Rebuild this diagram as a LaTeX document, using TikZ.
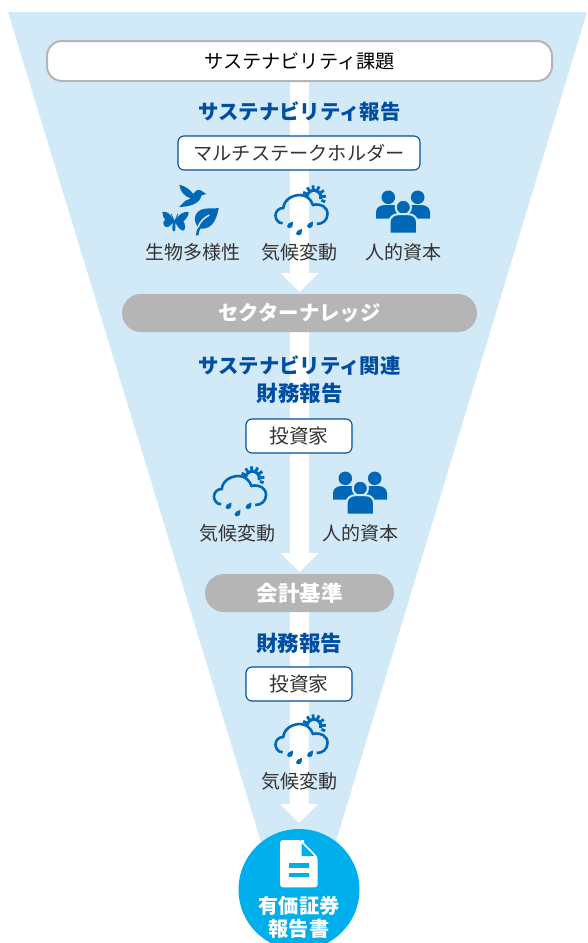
\documentclass[tikz,border=0pt]{standalone}
\usepackage{fontspec}
\setmainfont{Noto Sans CJK JP}
\usetikzlibrary{arrows.meta,backgrounds}
\definecolor{skyband}{HTML}{D2E9F8}
\definecolor{headblue}{HTML}{004EA2}
\definecolor{iconblue}{HTML}{0068B7}
\definecolor{pillgray}{HTML}{B5B5B5}
\definecolor{discblue}{HTML}{00AEEC}
\definecolor{inkgray}{HTML}{333333}
\newcommand{\kanjihead}{\fontsize{21.5}{28}\selectfont}
\tikzset{
  heading/.style={font=\fontsize{20.4}{28}\selectfont\bfseries,text=headblue,align=center,inner sep=0pt},
  topbox/.style={draw=pillgray,line width=2pt,fill=white,rounded corners=15pt,minimum width=505pt,minimum height=40pt,inner sep=0pt,outer sep=0pt,text=black,font=\fontsize{19.2}{23}\selectfont},
  audience/.style={draw=headblue,line width=1.1pt,fill=white,rounded corners=6pt,minimum height=34pt,inner sep=0pt,outer sep=0pt,text=inkgray,font=\fontsize{19.2}{23}\selectfont},
  pill/.style={fill=pillgray,rounded corners=19pt,minimum height=38pt,inner sep=0pt,outer sep=0pt,text=white,font=\fontsize{20.4}{25}\selectfont\bfseries},
  caption/.style={text=inkgray,font=\fontsize{19}{23}\selectfont,inner sep=0pt},
  flow/.style={white,line width=19pt,-{Triangle[width=37pt,length=19pt]}},
  pics/cloudicon/.style={code={
    % sun
    \draw[iconblue,line width=3pt] (13,-12.7) ++(-170:7) arc[start angle=-170,end angle=15,radius=7];
    \foreach \a in {155,125,95,65,35,5,-22}{\draw[iconblue,line width=2.8pt] (13,-12.7) ++(-\a:8) -- ++(-\a:4);}
    % cloud
    \draw[iconblue,line width=2.6pt] (-18.3,13.3) .. controls (-23,13.3) and (-25.5,9) .. (-25.5,5.5) .. controls (-25.5,1) and (-22,-2) .. (-17.7,-2) .. controls (-17,-10) and (-9,-15) .. (-1,-15) .. controls (5,-15) and (10,-11) .. (12,-5) .. controls (20,-7) and (26.5,-3) .. (26.5,4) .. controls (26.5,10) and (22,14) .. (15.7,14);
    % drops
    \foreach \dx/\dy in {-11/15,-2/22.3,9/15}{
      \fill[iconblue] (\dx+3,\dy-3.6) .. controls (\dx+3.2,\dy-1) and (\dx+3,\dy+3) .. (\dx-0.5,\dy+3) .. controls (\dx-3.5,\dy+3) and (\dx-3.5,\dy-0.5) .. (\dx-1.5,\dy-1.5) -- cycle;
    }
  }},
  pics/peopleicon/.style={code={
    \fill[iconblue] (-14.7,-12.7) circle[radius=6.8];
    \fill[iconblue] (14.7,-12.7) circle[radius=6.8];
    \fill[iconblue] (-27,8.5) -- (-27,2) .. controls (-27,-3) and (-22,-5) .. (-18,-5) -- (-10,-5) .. controls (-5,-5) and (0,-2) .. (0,4) -- (0,8.5) -- cycle;
    \fill[iconblue] (27,8.5) -- (27,2) .. controls (27,-3) and (22,-5) .. (18,-5) -- (10,-5) .. controls (5,-5) and (0,-2) .. (0,4) -- (0,8.5) -- cycle;
    \path[fill=iconblue,draw=skyband,line width=2pt] (0.3,-2.7) circle[radius=7.6];
    \path[fill=iconblue,draw=skyband,line width=2pt] (-13.5,23.5) -- (-13.5,12) .. controls (-13.5,7) and (-9,4.2) .. (-5,4.2) -- (5.5,4.2) .. controls (10,4.2) and (14,7) .. (14,12) -- (14,23.5) -- cycle;
  }}
}
\begin{document}
\begin{tikzpicture}[x=1pt,y=-1pt]
\useasboundingbox (0,0) rectangle (587,943);
\clip (0,0) rectangle (587,943);

% Top of the funnel
\node[topbox] (issue) at (299.5,61) {サステナビリティ課題};
\node[heading] (h1) at (299.5,112) {サステナビリティ報告};
\node[audience,minimum width=242pt] (a1) at (299,153) {マルチステークホルダー};
\node[caption] (c1a) at (193,252) {生物多様性};
\node[caption] (c1b) at (299,252) {気候変動};
\node[caption] (c1c) at (403,252) {人的資本};
\node[pill,minimum width=355pt] (p1) at (299.5,313) {セクターナレッジ};

% Middle
\node[heading] (h2) at (299.5,380) {サステナビリティ関連\\{\kanjihead 財務報告}};
\node[audience,minimum width=106pt] (a2) at (299,436) {\fontsize{19.7}{23}\selectfont 投資家};
\node[caption] (c2a) at (237,533) {気候変動};
\node[caption] (c2b) at (360,533) {人的資本};
\node[pill,minimum width=189pt,font=\kanjihead\bfseries] (p2) at (299.5,593) {会計基準};

% Lower
\node[heading,font=\kanjihead\bfseries] (h3) at (299,643) {財務報告};
\node[audience,minimum width=106pt] (a3) at (299,684) {\fontsize{19.7}{23}\selectfont 投資家};
\node[caption] (c3a) at (299,781) {気候変動};

% Disc
\begin{scope}[on background layer]
  \fill[skyband] (8,12) -- (587,12) -- (298.5,965) -- cycle;
  \draw[flow,shorten >=2pt] (issue.south) -- (p1.north);
  \draw[flow,shorten >=2pt] (p1.south) -- (p2.north);
\end{scope}
\node[circle,fill=discblue,minimum size=121pt,inner sep=0pt,outer sep=0pt] (disc) at (299,889.5) {};
\begin{scope}[on background layer]
  \draw[flow,shorten >=6pt] (p2.south) -- (disc.north);
\end{scope}
\node[text=white,font=\fontsize{20.2}{22.5}\selectfont\bfseries,align=center,inner sep=0pt] (dl) at (299,917.5) {有価証券\\報告書};

% Document icon
\fill[white,rounded corners=3pt] (280,840) -- (301,840) -- (317.7,857) -- (317.7,887.3) -- (280,887.3) -- cycle;
\fill[white] (301,840) -- (304,840) -- (304,845) -- cycle;
\fill[discblue] (301.7,843.3) -- (301.7,856) -- (314.3,856) -- cycle;
\fill[discblue] (289.3,863.3) rectangle (308.7,868);
\fill[discblue] (289.3,872.7) rectangle (308.7,877.3);

% Nature icons (bird, butterfly, leaf), drawn on a 3x grid
\begin{scope}[shift={(130,170)},x=0.3333pt,y=-0.3333pt]
  \fill[iconblue] (148,44) .. controls (165,48) and (180,58) .. (190,72) .. controls (195,62) and (205,56) .. (214,62) -- (229,72) -- (215,76) .. controls (212,92) and (195,110) .. (147,111) .. controls (155,105) and (160,98) .. (166,92) .. controls (172,90) and (178,88) .. (182,85) .. controls (165,80) and (150,65) .. (148,44) -- cycle;
  \fill[iconblue] (266,114) .. controls (258,160) and (240,178) .. (211,176) .. controls (208,182) and (206,188) .. (205,196) -- (198,196) .. controls (198,186) and (201,178) .. (205,172) .. controls (185,150) and (195,120) .. (225,116) .. controls (240,114) and (255,116) .. (266,114) -- cycle;
  \draw[skyband,line width=1.5pt] (204,172) .. controls (210,155) and (220,145) .. (238,135);
  \fill[iconblue] (131,150) .. controls (120,130) and (108,122) .. (97,126) .. controls (98,136) and (100,144) .. (106,150) .. controls (98,152) and (98,165) .. (106,170) .. controls (114,174) and (122,168) .. (128,158) -- (127,178) .. controls (130,186) and (135,186) .. (136,178) -- (136,158) .. controls (142,168) and (150,182) .. (160,182) .. controls (168,178) and (166,160) .. (160,154) .. controls (168,148) and (176,138) .. (176,126) .. controls (160,124) and (145,134) .. (136,150) -- cycle;
  \draw[iconblue,line width=0.8pt] (131,150) -- (124,132) (136,150) -- (143,132);
\end{scope}

% Climate and people icons
\pic (cl1) at (301,210) {cloudicon};
\pic (pe1) at (403,210) {peopleicon};
\pic (cl2) at (239.5,491) {cloudicon};
\pic (pe2) at (360,491) {peopleicon};
\pic (cl3) at (301,739) {cloudicon};
\end{tikzpicture}
\end{document}
